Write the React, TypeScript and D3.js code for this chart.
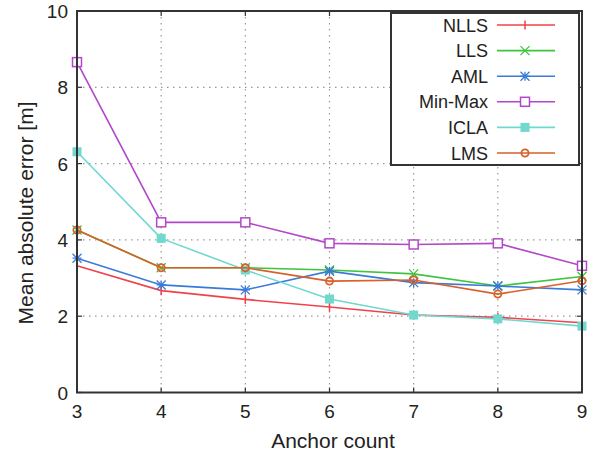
import React from "react";
import * as d3 from "d3";

const anchors = [3, 4, 5, 6, 7, 8, 9];
const nlls = [3.32, 2.67, 2.44, 2.24, 2.03, 1.97, 1.83];
const lls = [4.26, 3.27, 3.27, 3.21, 3.11, 2.79, 3.04];
const aml = [3.52, 2.82, 2.69, 3.18, 2.88, 2.79, 2.69];
const minmax = [8.66, 4.46, 4.46, 3.91, 3.88, 3.91, 3.32];
const icla = [6.31, 4.04, 3.21, 2.45, 2.03, 1.93, 1.74];
const lms = [4.26, 3.27, 3.27, 2.92, 2.95, 2.58, 2.93];
const yTicks = [0, 2, 4, 6, 8, 10];

const series = [
  { name: "NLLS", values: nlls, color: "#f0424a", marker: "plus" },
  { name: "LLS", values: lls, color: "#3ec43e", marker: "x" },
  { name: "AML", values: aml, color: "#3a7ad8", marker: "star" },
  { name: "Min-Max", values: minmax, color: "#b347c9", marker: "square" },
  { name: "ICLA", values: icla, color: "#6fd8cf", marker: "fsquare" },
  { name: "LMS", values: lms, color: "#d8602a", marker: "circle" },
];

const W = 589, H = 456;
const L = 77, R = 582, T = 11, B = 392.5;

function Marker({ type, x, y, color }: { type: string; x: number; y: number; color: string }) {
  const s = 4.5;
  if (type === "plus")
    return <path d={`M${x},${y - s}V${y + s}`} stroke={color} strokeWidth={1.5} />;
  if (type === "x")
    return <path d={`M${x - s},${y - s}L${x + s},${y + s}M${x - s},${y + s}L${x + s},${y - s}`} stroke={color} strokeWidth={1.3} fill="none" />;
  if (type === "star")
    return <path d={`M${x - s},${y - s}L${x + s},${y + s}M${x - s},${y + s}L${x + s},${y - s}M${x},${y - s}V${y + s}M${x - s},${y}H${x + s}`} stroke={color} strokeWidth={1.3} fill="none" />;
  if (type === "square")
    return <rect x={x - 4.5} y={y - 4.5} width={9} height={9} fill="white" stroke={color} strokeWidth={1.5} />;
  if (type === "fsquare")
    return <rect x={x - 4.5} y={y - 4.5} width={9} height={9} fill={color} stroke="none" />;
  return <circle cx={x} cy={y} r={3.6} fill="none" stroke={color} strokeWidth={1.8} />;
}

export default function App() {
  const x = d3.scaleLinear().domain([3, 9]).range([L, R]);
  const y = d3.scaleLinear().domain([0, 10]).range([B, T]);
  const line = d3.line<number>().x((_, i) => x(anchors[i])).y((d) => y(d));
  const font = "Liberation Sans, Arial, sans-serif";
  const legX = 391, legY = 13, legW = 188, legH = 152;
  return (
    <svg width={W} height={H} style={{ position: "absolute", left: 0, top: 0 }} fontFamily={font}>
      <rect width={W} height={H} fill="white" />
      {anchors.slice(1, -1).map((a) => (
        <line key={"gx" + a} x1={x(a)} x2={x(a)} y1={T} y2={B} stroke="#999" strokeWidth={1.2} strokeDasharray="1.5,4.5" />
      ))}
      {yTicks.slice(1, -1).map((t) => (
        <line key={"gy" + t} x1={L} x2={R} y1={y(t)} y2={y(t)} stroke="#999" strokeWidth={1.2} strokeDasharray="1.5,4.5" />
      ))}
      {anchors.map((a) => (
        <g key={"tx" + a}>
          <line x1={x(a)} x2={x(a)} y1={B} y2={B - 5} stroke="#333" strokeWidth={1.2} />
          <line x1={x(a)} x2={x(a)} y1={T} y2={T + 5} stroke="#333" strokeWidth={1.2} />
          <text x={x(a)} y={418} textAnchor="middle" fontSize={19} fill="#222">{a}</text>
        </g>
      ))}
      {yTicks.map((t) => (
        <g key={"ty" + t}>
          <line x1={L} x2={L + 5} y1={y(t)} y2={y(t)} stroke="#333" strokeWidth={1.2} />
          <line x1={R} x2={R - 5} y1={y(t)} y2={y(t)} stroke="#333" strokeWidth={1.2} />
          <text x={L - 9} y={y(t) + 7} textAnchor="end" fontSize={19} fill="#222">{t}</text>
        </g>
      ))}
      {series.map((s) => (
        <g key={s.name}>
          <path d={line(s.values) || ""} fill="none" stroke={s.color} strokeWidth={1.6} />
          {s.values.map((v, i) => (
            <Marker key={i} type={s.marker} x={x(anchors[i])} y={y(v)} color={s.color} />
          ))}
        </g>
      ))}
      <rect x={L} y={T} width={R - L} height={B - T} fill="none" stroke="#333" strokeWidth={2} />
      <rect x={legX} y={legY} width={legW} height={legH} fill="white" stroke="#333" strokeWidth={2} />
      {series.map((s, i) => {
        const cy = 25 + i * 25.6;
        return (
          <g key={"lg" + s.name}>
            <text x={488} y={cy + 6.5} textAnchor="end" fontSize={18} fill="#222">{s.name}</text>
            <line x1={497} x2={555} y1={cy} y2={cy} stroke={s.color} strokeWidth={1.6} />
            <Marker type={s.marker} x={525} y={cy} color={s.color} />
          </g>
        );
      })}
      <text x={333} y={448} textAnchor="middle" fontSize={21} fill="#222">Anchor count</text>
      <text transform={`translate(33,213) rotate(-90)`} textAnchor="middle" fontSize={21} fill="#222">Mean absolute error [m]</text>
    </svg>
  );
}
